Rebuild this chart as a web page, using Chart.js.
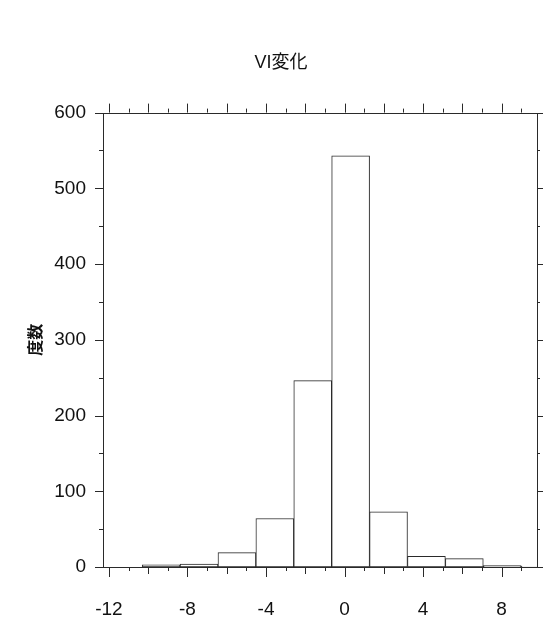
<!DOCTYPE html>
<html>
<head>
<meta charset="utf-8">
<script src="https://cdn.jsdelivr.net/npm/chart.js@4/dist/chart.umd.min.js"></script>
<style>
  html, body { margin: 0; padding: 0; background: #fff; }
  #wrap { width: 545px; height: 621px; }
</style>
</head>
<body>
<div id="wrap"><canvas id="histChart" width="545" height="621"></canvas></div>
<script>
// bin centres (VI change) and counts
var binCenters = [-9.34, -7.41, -5.48, -3.55, -1.62, 0.31, 2.24, 4.17, 6.10, 8.03, 9.96]
var counts = [3, 4, 19, 64, 246, 543, 73, 14, 11, 2, 1]
var xTickValues = [-12, -8, -4, 0, 4, 8]
var yTickValues = [0, 100, 200, 300, 400, 500, 600]

var lineColor = '#2a2a2a'
var tickFont = { family: "'Liberation Sans', Arial, sans-serif", size: 19 }

// frame round the plot + minor/major tick marks on all four sides
var framePlugin = {
    id: 'frame',
    afterDraw: function (chart) {
        var ctx = chart.ctx
        var a = chart.chartArea
        var xs = chart.scales.x
        var ys = chart.scales.y
        ctx.save()
        ctx.strokeStyle = lineColor
        ctx.lineWidth = 1
        ctx.strokeRect(Math.round(a.left) + 0.5, Math.round(a.top) + 0.5,
            Math.round(a.right - a.left), Math.round(a.bottom - a.top))
        ctx.beginPath()
        for (let v = -12; v <= 9; v++) {
            let px = Math.round(xs.getPixelForValue(v)) + 0.5
            let len = v % 4 === 0 ? 10 : (v % 2 === 0 ? 7 : 4)
            ctx.moveTo(px, a.bottom)
            ctx.lineTo(px, a.bottom + len)
            let tlen = v % 2 === 0 ? 9 : 4
            ctx.moveTo(px, a.top)
            ctx.lineTo(px, a.top - tlen)
        }
        for (let v = 0; v <= 600; v += 50) {
            let py = Math.round(ys.getPixelForValue(v)) + 0.5
            let len = v % 100 === 0 ? 8 : 4
            ctx.moveTo(a.left, py)
            ctx.lineTo(a.left - len, py)
            ctx.moveTo(a.right, py)
            ctx.lineTo(a.right + (v % 100 === 0 ? 6 : 3), py)
        }
        ctx.stroke()
        ctx.restore()
    }
}

var data = binCenters.map(function (c, i) {
    return { x: c, y: counts[i] }
})

var histChart = new Chart(document.getElementById('histChart'), {
    type: 'bar',
    data: {
        datasets: [{
            label: '度数',
            data: data,
            backgroundColor: '#ffffff',
            borderColor: lineColor,
            borderWidth: 1,
            borderSkipped: false,
            barPercentage: 1.0,
            categoryPercentage: 1.0
        }]
    },
    options: {
        responsive: false,
        animation: false,
        devicePixelRatio: 1,
        layout: { padding: { left: 25, right: 8, top: 0, bottom: 0 } },
        plugins: {
            legend: { display: false },
            tooltip: { enabled: false },
            title: {
                display: true,
                text: 'VI変化',
                color: '#111',
                font: { family: "'Liberation Sans', 'Noto Sans CJK JP', sans-serif", size: 18, weight: 'normal' },
                padding: { top: 52, bottom: 39 }
            }
        },
        scales: {
            x: {
                type: 'linear',
                min: -12.3,
                max: 9.8,
                offset: false,
                grid: { display: false, offset: false },
                border: { display: false },
                afterBuildTicks: function (scale) {
                    scale.ticks = xTickValues.map(function (v) { return { value: v } })
                },
                afterFit: function (scale) { scale.height = 54 },
                ticks: {
                    color: '#111',
                    font: tickFont,
                    padding: 23,
                    maxRotation: 0,
                    autoSkip: false,
                    callback: function (v) { return String(v) }
                }
            },
            y: {
                type: 'linear',
                min: 0,
                max: 600,
                grid: { display: false },
                border: { display: false },
                afterBuildTicks: function (scale) {
                    scale.ticks = yTickValues.map(function (v) { return { value: v } })
                },
                afterFit: function (scale) { scale.width = 78 },
                ticks: {
                    color: '#111',
                    font: tickFont,
                    padding: 9
                },
                title: {
                    display: true,
                    text: '度数',
                    color: '#111',
                    font: { family: "'Noto Sans CJK JP', sans-serif", size: 16, weight: 'bold' },
                    padding: { top: 0, bottom: 0 }
                }
            }
        }
    },
    plugins: [framePlugin]
});
</script>
</body>
</html>
